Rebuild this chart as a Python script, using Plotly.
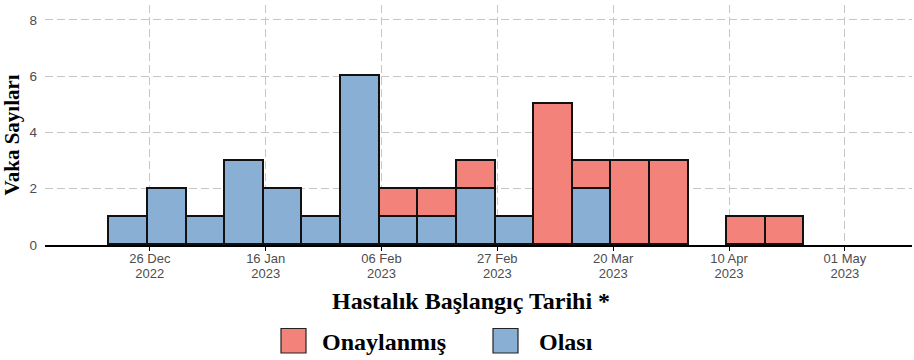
import pandas as pd
import plotly.graph_objects as go

# ---- data ----
week_starts = ["2022-12-19", "2022-12-26", "2023-01-02", "2023-01-09", "2023-01-16",
               "2023-01-23", "2023-01-30", "2023-02-06", "2023-02-13", "2023-02-20",
               "2023-02-27", "2023-03-06", "2023-03-13", "2023-03-20", "2023-03-27",
               "2023-04-03", "2023-04-10", "2023-04-17"]
olasi      = [1, 2, 1, 3, 2, 1, 6, 1, 1, 2, 1, 0, 2, 0, 0, 0, 0, 0]
onaylanmis = [0, 0, 0, 0, 0, 0, 0, 1, 1, 1, 0, 5, 1, 3, 3, 0, 1, 1]
tick_dates = ["2022-12-26", "2023-01-16", "2023-02-06", "2023-02-27",
              "2023-03-20", "2023-04-10", "2023-05-01"]
tick_daymonth = ["26 Dec", "16 Jan", "06 Feb", "27 Feb", "20 Mar", "10 Apr", "01 May"]
tick_year = ["2022", "2023", "2023", "2023", "2023", "2023", "2023"]
y_ticks = [0, 2, 4, 6, 8]
series_names = ["Onaylanmış", "Olası"]

RED = "#F3827A"
BLUE = "#89AFD4"
GRID = "#C6C6C6"
TICKC = "#4D4D4D"
SERIF = "Liberation Serif, Times New Roman, serif"
SANS = "Liberation Sans, Arial, sans-serif"

W, H = 914, 360
ML, MR, MT, MB = 45, 2, 5, 115
PW, PH = W - ML - MR, H - MT - MB
X_RANGE = ["2022-12-07 00:00", "2023-05-13 04:00"]

def px2x(p):
    return (p - ML) / PW

def py2y(p):
    return (H - MB - p) / PH

starts = pd.to_datetime(week_starts)
centers = starts + pd.Timedelta(days=3, hours=4)
week_ms = 7 * 24 * 3600 * 1000

def nz(v):
    return [x if x else None for x in v]

fig = go.Figure()
fig.add_trace(go.Bar(x=centers, y=nz(olasi), width=week_ms, name=series_names[1],
                     marker=dict(color=BLUE, line=dict(color="#111111", width=1.8)),
                     showlegend=False))
fig.add_trace(go.Bar(x=centers, y=nz(onaylanmis), width=week_ms, name=series_names[0],
                     marker=dict(color=RED, line=dict(color="#111111", width=1.8)),
                     showlegend=False))
# carrier trace for the second (year) tick-label axis
fig.add_trace(go.Scatter(x=[tick_dates[0]], y=[None], xaxis="x2", yaxis="y",
                         mode="markers", showlegend=False, hoverinfo="skip"))

fig.update_layout(
    width=W, height=H, barmode="stack", bargap=0,
    margin=dict(l=ML, r=MR, t=MT, b=MB),
    plot_bgcolor="white", paper_bgcolor="white",
    xaxis=dict(
        type="date", range=X_RANGE,
        tickvals=tick_dates, ticktext=tick_daymonth,
        tickfont=dict(family=SANS, size=13, color=TICKC),
        showgrid=True, gridcolor=GRID, gridwidth=1, griddash="8px,4px",
        ticks="outside", ticklen=4, tickcolor="black", tickwidth=1,
        ticklabelstandoff=-3,
        showline=True, linecolor="black", linewidth=1.5, zeroline=False,
    ),
    xaxis2=dict(
        type="date", range=X_RANGE, overlaying="x", side="bottom", anchor="y",
        tickvals=tick_dates, ticktext=tick_year,
        tickfont=dict(family=SANS, size=13, color=TICKC),
        showgrid=False, showline=False, zeroline=False, ticks="",
        ticklabelstandoff=19,
    ),
    yaxis=dict(
        range=[0, 8.533], tickvals=y_ticks,
        tickfont=dict(family=SANS, size=13.5, color=TICKC),
        showgrid=True, gridcolor=GRID, gridwidth=1, griddash="8px,4px",
        showline=False, zeroline=False, ticks="", ticklabelstandoff=7,
    ),
)

# axis titles
fig.add_annotation(text="<b>Hastalık Başlangıç Tarihi *</b>", xref="paper", yref="paper",
                   x=px2x(471), y=py2y(301), showarrow=False, xanchor="center", yanchor="middle",
                   font=dict(family=SERIF, size=24, color="black"))
fig.add_annotation(text="<b>Vaka Sayıları</b>", xref="paper", yref="paper",
                   x=px2x(11.5), y=py2y(135), showarrow=False, textangle=-90,
                   xanchor="center", yanchor="middle",
                   font=dict(family=SERIF, size=21, color="black"))

# legend
legend_items = [(series_names[0], RED, 281, 320), (series_names[1], BLUE, 493, 537)]
for name, col, sx, tx in legend_items:
    fig.add_shape(type="rect", xref="paper", yref="paper",
                  x0=px2x(sx), x1=px2x(sx + 25), y0=py2y(353), y1=py2y(328.5),
                  fillcolor=col, line=dict(color="#222222", width=1.2))
    fig.add_annotation(text="<b>%s</b>" % name, xref="paper", yref="paper",
                       x=px2x(tx), y=py2y(342), showarrow=False, xanchor="left", yanchor="middle",
                       font=dict(family=SERIF, size=24, color="black"))

fig.write_html("out.html", config={"displayModeBar": False},
               post_script="document.body.style.margin='0';document.body.style.overflow='hidden';")
